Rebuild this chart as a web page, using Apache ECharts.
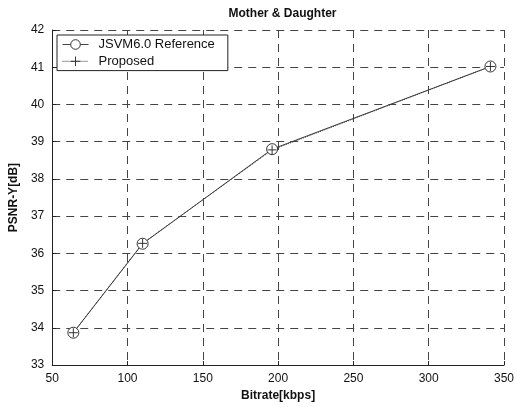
<!DOCTYPE html>
<html><head><meta charset="utf-8">
<script src="https://cdn.jsdelivr.net/npm/echarts@6/dist/echarts.min.js"></script>
<style>html,body{margin:0;padding:0;background:#fff}#c{width:517px;height:407px}</style>
</head><body><div id="c"></div>
<script>
const bitrate = [64, 110, 196, 341];
const jsvmRef = [33.87, 36.26, 38.8, 41.02];
const proposed = [33.87, 36.27, 38.78, 41.02];
const xTicks = [50, 100, 150, 200, 250, 300, 350];
const yTicks = [33, 34, 35, 36, 37, 38, 39, 40, 41, 42];

const FONT = '"Liberation Sans", Arial, sans-serif';
const plusPath = 'path://M0,5L10,5M5,0L5,10';
const chart = echarts.init(document.getElementById('c'), null, {renderer: 'canvas'});
chart.setOption({
  animation: false,
  backgroundColor: '#fff',
  title: {
    text: 'Mother & Daughter', left: 277.5, textAlign: 'center', top: 3,
    textStyle: {fontFamily: FONT, fontSize: 12, fontWeight: 'bold', color: '#111'}
  },
  grid: {left: 49, right: 11, top: 30, bottom: 37, show: false},
  legend: {
    orient: 'vertical', left: 57, top: 35,
    padding: [3, 13, 2, 5], itemGap: 3, itemWidth: 26, itemHeight: 12,
    borderColor: '#222', borderWidth: 1, backgroundColor: '#fff',
    itemStyle: {borderWidth: 1},
    lineStyle: {width: 1, type: 'inherit'},
    textStyle: {fontFamily: FONT, fontSize: 13, color: '#111', padding: [0, 0, 0, 5]},
    data: ['JSVM6.0 Reference', 'Proposed']
  },
  xAxis: {
    type: 'value', min: 50, max: 350, interval: 50,
    name: 'Bitrate[kbps]', nameLocation: 'middle', nameGap: 21,
    nameTextStyle: {fontFamily: FONT, fontSize: 12, fontWeight: 'bold', color: '#111'},
    axisLine: {show: true, lineStyle: {color: '#222', width: 1}},
    axisTick: {show: true, inside: true, length: 4, lineStyle: {color: '#222'}},
    axisLabel: {fontFamily: FONT, fontSize: 12, color: '#111', margin: 8,
      formatter: v => xTicks.includes(v) ? String(v) : ''},
    splitLine: {show: true, lineStyle: {color: '#444', type: [8, 6], width: 1}}
  },
  yAxis: {
    type: 'value', min: 33, max: 42, interval: 1,
    name: 'PSNR-Y[dB]', nameLocation: 'middle', nameGap: 31,
    nameTextStyle: {fontFamily: FONT, fontSize: 12, fontWeight: 'bold', color: '#111'},
    axisLine: {show: true, lineStyle: {color: '#222', width: 1}},
    axisTick: {show: true, inside: true, length: 4, lineStyle: {color: '#222'}},
    axisLabel: {fontFamily: FONT, fontSize: 12, color: '#111', margin: 8,
      formatter: v => yTicks.includes(v) ? String(v) : ''},
    splitLine: {show: true, lineStyle: {color: '#444', type: [8, 6], width: 1}}
  },
  series: [
    {
      name: 'JSVM6.0 Reference', type: 'line',
      data: bitrate.map((x, i) => [x, jsvmRef[i]]),
      symbol: 'circle', symbolSize: 11, showSymbol: true,
      itemStyle: {color: '#fff', borderColor: '#333', borderWidth: 1},
      lineStyle: {color: '#444', width: 1}
    },
    {
      name: 'Proposed', type: 'line',
      data: bitrate.map((x, i) => [x, proposed[i]]),
      symbol: plusPath, symbolSize: 9, showSymbol: true,
      itemStyle: {color: 'none', borderColor: '#333', borderWidth: 1},
      lineStyle: {color: '#333', width: 1, type: 'dotted'}
    }
  ]
});
</script></body></html>
